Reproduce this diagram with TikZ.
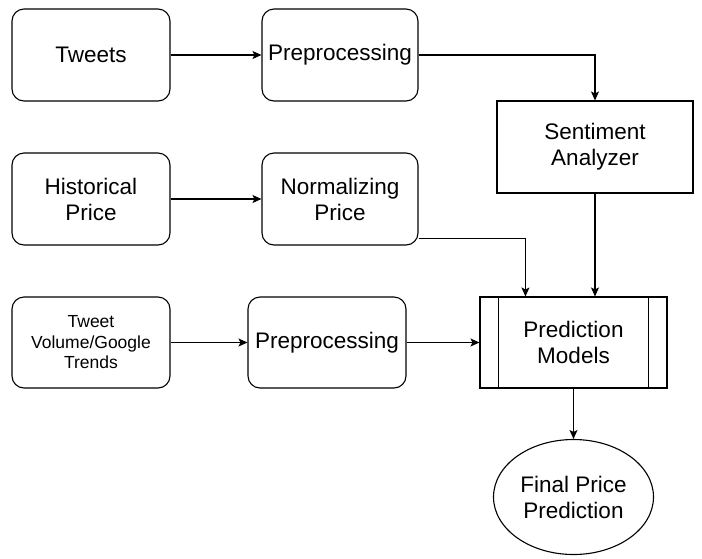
\documentclass[tikz,border=0pt]{standalone}
\usepackage{fontspec}
\setmainfont{Liberation Sans}
\usetikzlibrary{arrows.meta,shapes}

\begin{document}
\begin{tikzpicture}[x=1pt, y=-1pt, >={Stealth[length=9pt,width=8pt,inset=2pt]},
  line width=1.1pt,
  box/.style={draw, rounded corners=12pt, align=center, inner sep=2pt,
    font=\fontsize{22.5}{26}\selectfont, minimum width=158pt, minimum height=92pt},
  plain/.style={draw, align=center, font=\fontsize{22.5}{26}\selectfont,
    minimum height=92pt},
  flow/.style={->}]
  \useasboundingbox (0,0) rectangle (702,558);
  \node[box] (tweets) at (91,55) {Tweets};
  \node[box, minimum width=156pt] (prep1) at (340,55) {Preprocessing};
  \node[box] (hist) at (91,199) {Historical\\Price};
  \node[box, minimum width=156pt] (norm) at (340,199) {Normalizing\\Price};
  \node[box, minimum height=91pt, font=\fontsize{17.5}{20.5}\selectfont] (volume)
    at (91,342.5) {Tweet\\Volume/Google\\Trends};
  \node[box, minimum height=91pt] (prep2) at (327,342.5) {Preprocessing};
  \node[plain, minimum width=196pt] (senti) at (595,147) {Sentiment\\Analyzer};
  \node[plain, minimum width=187pt, minimum height=91pt] (pred) at (573.5,342.5)
    {Prediction\\Models};
  \draw ([xshift=19pt]pred.north west) -- ([xshift=19pt]pred.south west);
  \draw ([xshift=-19pt]pred.north east) -- ([xshift=-19pt]pred.south east);
  \node[ellipse, draw, align=center, font=\fontsize{22.5}{26}\selectfont,
    minimum width=160pt, minimum height=115pt, inner sep=0pt] (final) at (573.5,497)
    {Final Price\\Prediction};
  \draw[flow] (tweets) -- (prep1);
  \draw[flow] (prep1.east) -| (senti.north);
  \draw[flow] (hist) -- (norm);
  \draw[flow] ([yshift=7pt]norm.south east) -| ([xshift=46pt]pred.north west);
  \draw[flow] (senti.south) -- (senti.south |- pred.north);
  \draw[flow] (volume) -- (prep2);
  \draw[flow] (prep2) -- (pred);
  \draw[flow] (pred) -- (final);
\end{tikzpicture}
\end{document}
